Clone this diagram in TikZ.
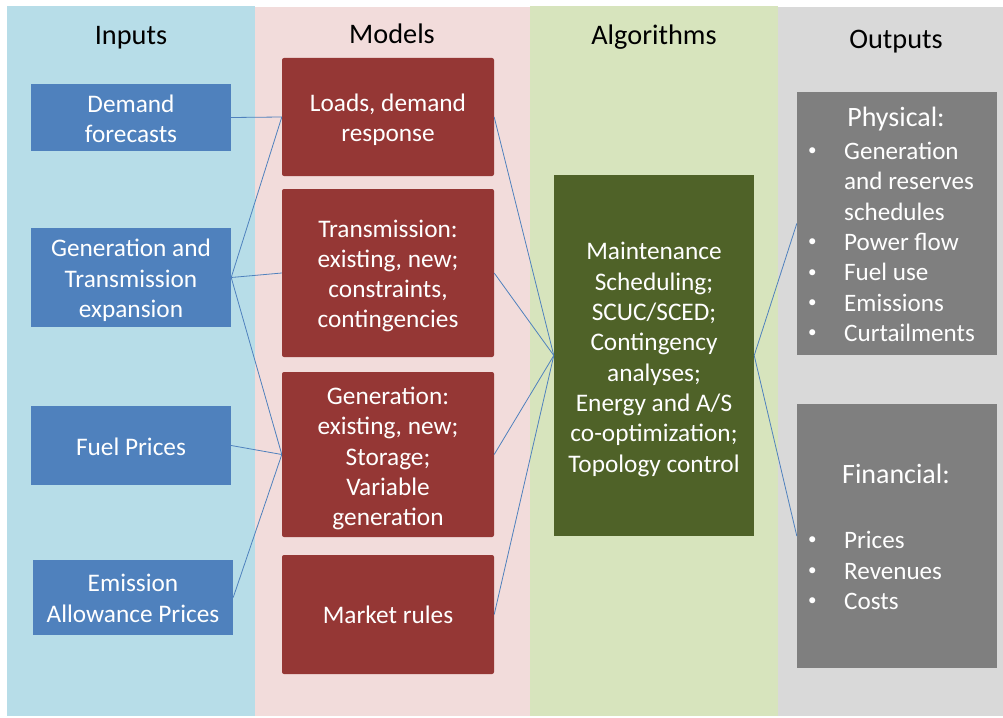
\documentclass[tikz,border=0pt]{standalone}
\usepackage{fontspec}
\setmainfont{Carlito}
\definecolor{inbg}{HTML}{B7DDE8}
\definecolor{modbg}{HTML}{F2DCDB}
\definecolor{algbg}{HTML}{D7E4BD}
\definecolor{outbg}{HTML}{D9D9D9}
\definecolor{inblue}{HTML}{4F81BD}
\definecolor{modred}{HTML}{953735}
\definecolor{alggreen}{HTML}{4F6228}
\definecolor{outgray}{HTML}{7F7F7F}
\definecolor{linkblue}{HTML}{4F81BD}
\tikzset{
  box/.style={rectangle, inner sep=0pt},
  boxtext/.style={inner sep=0pt, align=center, text=white,
    font=\fontsize{25.3}{30.3}\selectfont},
  inbox/.style={box, fill=inblue},
  modbox/.style={box, fill=modred, rounded corners=2pt},
  algbox/.style={box, fill=alggreen},
  outbox/.style={box, fill=outgray},
  coltitle/.style={anchor=base, text=black, inner sep=0pt, font=\fontsize{28.3}{33}\selectfont},
  outtext/.style={anchor=base west, inner sep=0pt, text=white, font=\fontsize{25.1}{30.3}\selectfont},
  outhead/.style={anchor=base, inner sep=0pt, text=white, font=\fontsize{28}{33}\selectfont},
  bul/.style={anchor=base, inner sep=0pt, text=white, font=\fontsize{17}{20}\selectfont},
  conn/.style={draw=linkblue, line width=0.8pt}
}
\begin{document}
\begin{tikzpicture}[x=1pt,y=-1pt]
\useasboundingbox (0,0) rectangle (1003,717);
\fill[white] (0,0) rectangle (1003,717);
% column backgrounds
\fill[inbg] (7,6) rectangle (255,716);
\fill[modbg] (255,7) rectangle (530,716);
\fill[algbg] (530,6) rectangle (778,716);
\fill[outbg] (778,7) rectangle (1003,716);
% titles
\node[coltitle] (tin) at (131,45) {Inputs};
\node[coltitle] (tmod) at (392,43.3) {Models};
\node[coltitle] (talg) at (654,45) {Algorithms};
\node[coltitle] (tout) at (896,48.3) {Outputs};
% input boxes
\node[inbox, minimum width=200pt, minimum height=67pt] (demand) at (131,117.5) {};
\node[boxtext] (demandt) at ([yshift=-1pt]demand.center) {Demand\\forecasts};
\node[inbox, minimum width=200pt, minimum height=99pt] (gentrans) at (131,277.5) {};
\node[boxtext] (gentranst) at ([yshift=-3pt]gentrans.center) {Generation and\\Transmission\\expansion};
\node[inbox, minimum width=200pt, minimum height=79pt] (fuel) at (131,445.5) {};
\node[boxtext] (fuelt) at ([yshift=-1pt]fuel.center) {Fuel Prices};
\node[inbox, minimum width=200pt, minimum height=75pt] (emis) at (133,597.5) {};
\node[boxtext] (emist) at ([yshift=-1pt]emis.center) {Emission\\Allowance Prices};
% model boxes
\node[modbox, minimum width=212pt, minimum height=118pt] (loads) at (388,117) {};
\node[boxtext] (loadst) at ([yshift=-3pt]loads.center) {Loads, demand\\response};
\node[modbox, minimum width=212pt, minimum height=168pt] (trans) at (388,273) {};
\node[boxtext] (transt) at ([yshift=-3pt]trans.center) {Transmission:\\existing, new;\\constraints,\\contingencies};
\node[modbox, minimum width=212pt, minimum height=165pt] (gen) at (388,454.5) {};
\node[boxtext] (gent) at ([yshift=-4pt]gen.center) {Generation:\\existing, new;\\Storage;\\Variable\\generation};
\node[modbox, minimum width=212pt, minimum height=119pt] (market) at (388,614.5) {};
\node[boxtext] (markett) at (market.center) {Market rules};
% algorithm box
\node[algbox, minimum width=200pt, minimum height=361pt] (alg) at (654,355.5) {};
\node[boxtext] (algt) at ([yshift=-4pt]alg.center) {Maintenance\\Scheduling;\\SCUC/SCED;\\Contingency\\analyses;\\Energy and A/S\\co-optimization;\\Topology control};
% output boxes
\node[outbox, minimum width=200pt, minimum height=263pt] (phys) at (897,223.5) {};
\node[outbox, minimum width=200pt, minimum height=264pt] (fin) at (897,536) {};
% physical text
\node[outhead] (physh) at (896,126.7) {Physical:};
\node[bul] (pb1) at (812.3,155.8) {•};
\node[outtext] (pt1) at (844,159.3) {Generation};
\node[outtext] (pt1b) at (844,189.6) {and reserves};
\node[outtext] (pt1c) at (844,220) {schedules};
\node[bul] (pb2) at (812.3,246.5) {•};
\node[outtext] (pt2) at (844,250) {Power flow};
\node[bul] (pb3) at (812.3,277) {•};
\node[outtext] (pt3) at (844,280.5) {Fuel use};
\node[bul] (pb4) at (812.3,307.5) {•};
\node[outtext] (pt4) at (844,311) {Emissions};
\node[bul] (pb5) at (812.3,337.8) {•};
\node[outtext] (pt5) at (844,341.3) {Curtailments};
% financial text
\node[outhead] (finh) at (896,483) {Financial:};
\node[bul] (fb1) at (812.3,544.8) {•};
\node[outtext] (ft1) at (844,548.3) {Prices};
\node[bul] (fb2) at (812.3,575.8) {•};
\node[outtext] (ft2) at (844,579.3) {Revenues};
\node[bul] (fb3) at (812.3,605.8) {•};
\node[outtext] (ft3) at (844,609.3) {Costs};
% connectors
\draw[conn] (demand.east) -- (loads.west);
\draw[conn] (gentrans.east) -- (loads.west);
\draw[conn] (gentrans.east) -- (trans.west);
\draw[conn] (gentrans.east) -- (gen.west);
\draw[conn] (fuel.east) -- (gen.west);
\draw[conn] (emis.east) -- (gen.west);
\draw[conn] (loads.east) -- (alg.west);
\draw[conn] (trans.east) -- (alg.west);
\draw[conn] (gen.east) -- (alg.west);
\draw[conn] (market.east) -- (alg.west);
\draw[conn] (alg.east) -- (phys.west);
\draw[conn] (alg.east) -- (fin.west);
\end{tikzpicture}
\end{document}
